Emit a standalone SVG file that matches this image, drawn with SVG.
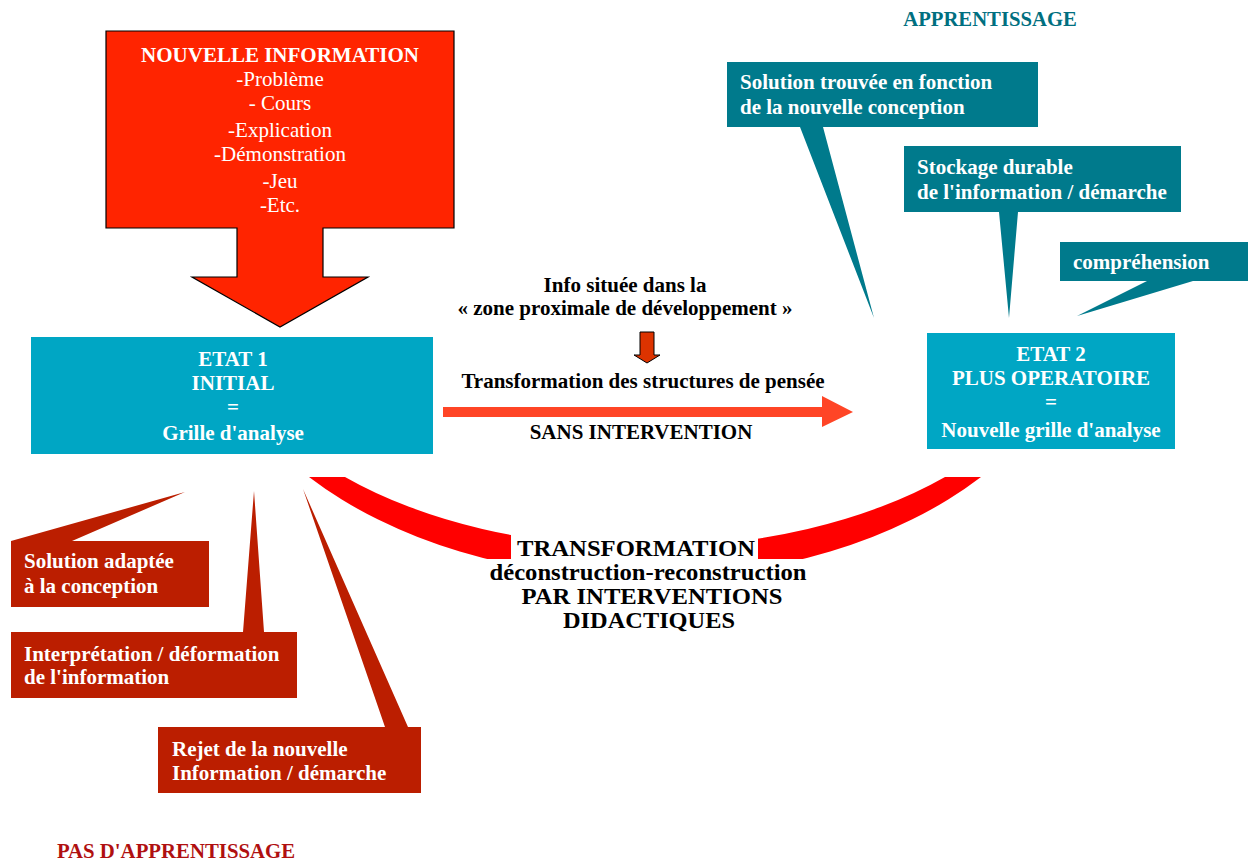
<svg xmlns="http://www.w3.org/2000/svg" width="1248" height="863" viewBox="0 0 1248 863">
<style>
text{font-family:"Liberation Serif","Times New Roman",serif}
.w{fill:#fff;font-weight:bold;font-size:21px}
.wr{fill:#fff;font-size:21px}
.k{fill:#000;font-weight:bold;font-size:21px}
.c{fill:#fff;font-weight:bold;font-size:21px}
.big{fill:#000;font-weight:bold;font-size:23px}
.teal{fill:#007a8c}
.brown{fill:#bb1e00}
.etat{fill:#00a6c4}
</style>
<rect width="1248" height="863" fill="#fff"/>
<text x="990" y="26" text-anchor="middle" style="font-weight:bold;font-size:20.7px;fill:#006f80">APPRENTISSAGE</text>
<text x="176" y="858" text-anchor="middle" style="font-weight:bold;font-size:20.8px;fill:#b01010">PAS D'APPRENTISSAGE</text>
<g id="connectors">
<path d="M309 477 A440 285 0 0 0 981 477 L945 477 A420 234 0 0 1 345 477 Z" fill="#ff0000"/>
<polygon points="443,407 822,407 822,396 853,412 822,427 822,417 443,417" fill="#ff4526"/>
<polygon points="640,332 654,332 654,355 660,355 647,363 634,355 640,355" fill="#dd3300" stroke="#000" stroke-width="1"/>
</g>
<g id="nouvelle-information">
<polygon points="106,31 454,31 454,228 323,228 323,277 368,277 280,327 192,277 237,277 237,228 106,228" fill="#ff2400" stroke="#000" stroke-width="1.2"/>
<text x="280" y="62" text-anchor="middle" class="w">NOUVELLE INFORMATION</text>
<text x="280" y="86" text-anchor="middle" class="wr">-Problème</text>
<text x="280" y="110" text-anchor="middle" class="wr">- Cours</text>
<text x="280" y="137" text-anchor="middle" class="wr">-Explication</text>
<text x="280" y="161" text-anchor="middle" class="wr">-Démonstration</text>
<text x="280" y="188" text-anchor="middle" class="wr">-Jeu</text>
<text x="280" y="212" text-anchor="middle" class="wr">-Etc.</text>
</g>
<g id="etat1">
<rect x="31" y="337" width="402" height="117" class="etat"/>
<text x="233" y="366" text-anchor="middle" class="w">ETAT 1</text>
<text x="233" y="390" text-anchor="middle" class="w">INITIAL</text>
<text x="233" y="414" text-anchor="middle" class="w">=</text>
<text x="233" y="440" text-anchor="middle" class="w">Grille d'analyse</text>
</g>
<g id="etat2">
<rect x="927" y="333" width="248" height="116" class="etat"/>
<text x="1051" y="361" text-anchor="middle" class="w">ETAT 2</text>
<text x="1051" y="385" text-anchor="middle" class="w">PLUS OPERATOIRE</text>
<text x="1051" y="409" text-anchor="middle" class="w">=</text>
<text x="1051" y="437" text-anchor="middle" class="w">Nouvelle grille d'analyse</text>
</g>
<g id="zone-proximale">
<text x="625" y="292" text-anchor="middle" class="k">Info située dans la</text>
<text x="625" y="315" text-anchor="middle" class="k">« zone proximale de développement »</text>
<text x="643" y="388" text-anchor="middle" class="k">Transformation des structures de pensée</text>
<text x="641" y="439" text-anchor="middle" class="k">SANS INTERVENTION</text>
</g>
<g id="transformation">
<rect x="511" y="535" width="247" height="24" fill="#fff"/>
<rect x="487" y="559" width="320" height="26" fill="#fff"/>
<text x="636" y="556" text-anchor="middle" class="big" textLength="238" lengthAdjust="spacingAndGlyphs">TRANSFORMATION</text>
<text x="648" y="580" text-anchor="middle" class="big" textLength="317" lengthAdjust="spacingAndGlyphs">déconstruction-reconstruction</text>
<text x="652" y="604" text-anchor="middle" class="big" textLength="261" lengthAdjust="spacingAndGlyphs">PAR INTERVENTIONS</text>
<text x="649" y="628" text-anchor="middle" class="big" textLength="172" lengthAdjust="spacingAndGlyphs">DIDACTIQUES</text>
</g>
<g id="solution-trouvee">
<polygon points="727,62 1038,62 1038,127 823,127 874,318 800,127 727,127" class="teal"/>
<text x="740" y="89" class="c">Solution trouvée en fonction</text>
<text x="740" y="114" class="c">de la nouvelle conception</text>
</g>
<g id="stockage">
<polygon points="904,146 1181,146 1181,212 1018,212 1009,318 999,212 904,212" class="teal"/>
<text x="917" y="174" class="c">Stockage durable</text>
<text x="917" y="199" class="c">de l'information / démarche</text>
</g>
<g id="comprehension">
<polygon points="1060,242 1248,242 1248,281 1193,281 1077,316 1147,281 1060,281" class="teal"/>
<text x="1073" y="269" class="c">compréhension</text>
</g>
<g id="solution-adaptee">
<polygon points="11,541 185,492 72,541 209,541 209,607 11,607" class="brown"/>
<text x="24" y="568" class="c">Solution adaptée</text>
<text x="24" y="593" class="c">à la conception</text>
</g>
<g id="interpretation">
<polygon points="11,632 243,632 254,491 264,632 297,632 297,698 11,698" class="brown"/>
<text x="24" y="661" class="c">Interprétation / déformation</text>
<text x="24" y="684" class="c">de l'information</text>
</g>
<g id="rejet">
<polygon points="158,727 385,727 303,489 408,727 421,727 421,793 158,793" class="brown"/>
<text x="172" y="756" class="c">Rejet de la nouvelle</text>
<text x="172" y="780" class="c">Information / démarche</text>
</g>
</svg>
